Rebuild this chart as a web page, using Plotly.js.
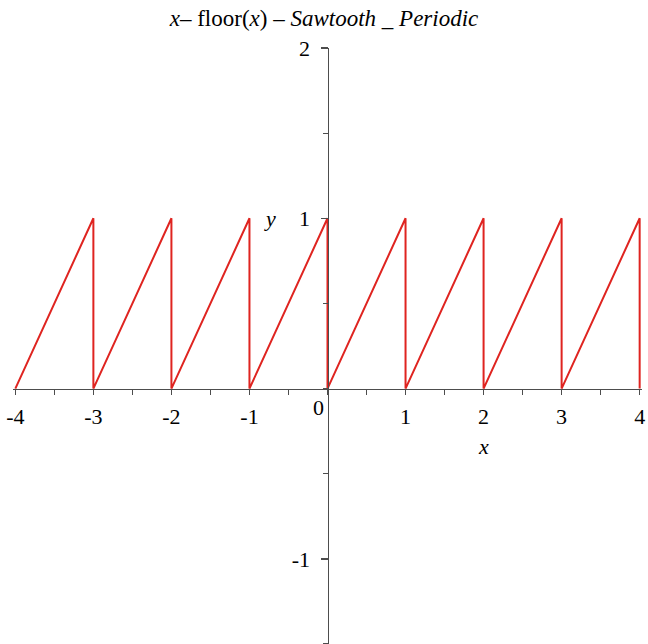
<!DOCTYPE html>
<html>
<head>
<meta charset="utf-8">
<script src="https://cdn.plot.ly/plotly-3.0.1.min.js"></script>
<style>
  html, body { margin: 0; padding: 0; background: #fff; }
  #plot { width: 648px; height: 644px; }
</style>
</head>
<body>
<div id="plot"></div>
<script>
// Vertices of y = x - floor(x) on [-4, 4], with the jumps drawn as vertical segments
const sawX = [-4, -3, -3, -2, -2, -1, -1, 0, 0, 1, 1, 2, 2, 3, 3, 4, 4];
const sawY = [ 0,  1,  0,  1,  0,  1,  0, 1, 0, 1, 0, 1, 0, 1, 0, 1, 0];

const xTickVals = [-4, -3, -2, -1, 1, 2, 3, 4];
const xTickText = ['-4', '-3', '-2', '-1', '1', '2', '3', '4'];
const yTickVals = [-1, 1, 2];
const yTickText = ['-1', '1', '2'];

const xRange = [-4.03, 4.03];
const yRange = [-1.5, 2];

const serif = 'Liberation Serif, Times New Roman, serif';
const axisColor = '#4d4d4d';
const fs = 22;

const trace = {
  x: sawX,
  y: sawY,
  type: 'scatter',
  mode: 'lines',
  line: { color: '#df2420', width: 2 },
  hoverinfo: 'skip'
};

const layout = {
  width: 648,
  height: 644,
  margin: { l: 13, r: 6, t: 48, b: 0 },
  paper_bgcolor: '#ffffff',
  plot_bgcolor: '#ffffff',
  showlegend: false,
  font: { family: serif, size: fs, color: '#000' },
  title: {
    text: '<i>x</i>– floor(<i>x</i>) – <i>Sawtooth</i> _ <i>Periodic</i>',
    font: { family: serif, size: 23, color: '#000' },
    x: 0.5, xanchor: 'center',
    y: 0.972, yanchor: 'middle'
  },
  xaxis: {
    range: xRange,
    anchor: 'free',
    position: (0 - yRange[0]) / (yRange[1] - yRange[0]),
    showgrid: false,
    zeroline: false,
    showline: true,
    linecolor: axisColor,
    linewidth: 1.5,
    tickmode: 'array',
    tickvals: xTickVals,
    ticktext: xTickText,
    ticks: 'outside',
    ticklen: 5,
    tickwidth: 1.5,
    tickcolor: axisColor,
    ticklabelstandoff: 3,
    minor: { dtick: 0.5, tick0: 0, ticks: 'outside', ticklen: 5, tickwidth: 1.2, tickcolor: axisColor },
    tickfont: { family: serif, size: fs, color: '#000' }
  },
  yaxis: {
    range: yRange,
    anchor: 'free',
    position: (0 - xRange[0]) / (xRange[1] - xRange[0]),
    showgrid: false,
    zeroline: false,
    showline: true,
    linecolor: axisColor,
    linewidth: 1.5,
    tickmode: 'array',
    tickvals: yTickVals,
    ticktext: yTickText,
    ticks: 'outside',
    ticklen: 7,
    tickwidth: 1.5,
    tickcolor: axisColor,
    ticklabelstandoff: 6,
    minor: { dtick: 0.5, tick0: 0, ticks: 'outside', ticklen: 5, tickwidth: 1.2, tickcolor: axisColor },
    tickfont: { family: serif, size: fs, color: '#000' }
  },
  annotations: [
    { x: -0.12, y: -0.11, xref: 'x', yref: 'y', text: '0', showarrow: false,
      font: { family: serif, size: fs, color: '#000' } },
    { x: 2.0, y: -0.34, xref: 'x', yref: 'y', text: '<i>x</i>', showarrow: false,
      font: { family: serif, size: fs, color: '#000' } },
    { x: -0.74, y: 1.0, xref: 'x', yref: 'y', text: '<i>y</i>', showarrow: false,
      font: { family: serif, size: fs, color: '#000' } }
  ]
};

Plotly.newPlot('plot', [trace], layout, { displayModeBar: false, staticPlot: true });
</script>
</body>
</html>
